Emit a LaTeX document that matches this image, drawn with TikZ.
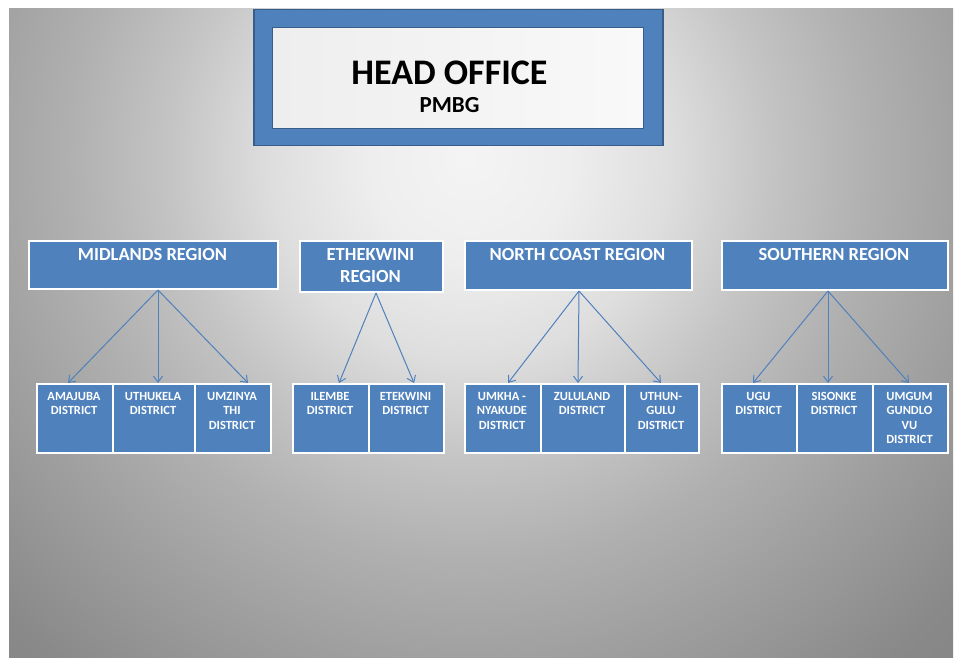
\documentclass[tikz,border=0pt]{standalone}
\usepackage{fontspec}
\setmainfont{Carlito}
\usetikzlibrary{arrows.meta}

\definecolor{boxblue}{HTML}{4F81BD}
\definecolor{edgeblue}{HTML}{385D8A}
\definecolor{bgA}{HTML}{F4F4F4}
\definecolor{bgB}{HTML}{EEEEEE}
\definecolor{bgC}{HTML}{DEDEDE}
\definecolor{bgD}{HTML}{C4C4C4}
\definecolor{bgE}{HTML}{B0B0B0}
\definecolor{bgF}{HTML}{A0A0A0}
\definecolor{bgG}{HTML}{898989}
\definecolor{bgH}{HTML}{808080}
\definecolor{panelL}{HTML}{EEEEEE}
\definecolor{panelR}{HTML}{F9F9F9}

% soft grey backdrop, brightest near the head office
\pgfdeclareradialshading{backdrop}{\pgfpoint{0bp}{0bp}}{%
  color(0bp)=(bgA); color(3.1bp)=(bgB); color(6.25bp)=(bgC);
  color(9.4bp)=(bgD); color(12.5bp)=(bgE); color(15.6bp)=(bgF);
  color(20.3bp)=(bgG); color(25bp)=(bgH); color(50bp)=(bgH)}

\begin{document}
\begin{tikzpicture}[x=1pt,y=-1pt,
  bluebox/.style={draw=white, line width=2pt, fill=boxblue, inner sep=0pt, anchor=north west},
  regiontext/.style={text=white, align=center, inner sep=0pt, anchor=north,
    font=\bfseries\fontsize{18.5}{22}\selectfont},
  disttext/.style={text=white, align=center, inner sep=0pt, anchor=north,
    font=\bfseries\fontsize{12.5}{14.5}\selectfont},
  link/.style={draw=boxblue, line width=1pt,
    -{Straight Barb[length=6pt,width=9pt,line width=1pt]}}]

\useasboundingbox (0,0) rectangle (954,658);
\fill[white] (0,0) rectangle (954,658);
\begin{scope}
  \clip (9,9) rectangle (953,657);
  \shade[shading=backdrop] (470,160) circle (800);
\end{scope}

% head office
\node[draw=edgeblue, line width=1.5pt, fill=boxblue, inner sep=0pt, anchor=north west,
  minimum width=409pt, minimum height=136pt] (hq) at (253,9) {};
\node[draw=edgeblue, line width=1.2pt, left color=panelL, right color=panelR, inner sep=0pt,
  anchor=north west, minimum width=371pt, minimum height=101pt] (hqpanel) at (272,27) {};
\node[anchor=base, inner sep=0pt, font=\bfseries\fontsize{36}{42}\selectfont] (hqtitle) at (449.5,85) {HEAD OFFICE};
\node[anchor=base, inner sep=0pt, font=\bfseries\fontsize{23}{27}\selectfont] (hqsub) at (449.5,113) {PMBG};

% regions
\node[bluebox, minimum width=249pt, minimum height=48pt] (midlands) at (28,240) {};
\node[bluebox, minimum width=143pt, minimum height=51pt] (ethekwini) at (299,240) {};
\node[bluebox, minimum width=227pt, minimum height=49pt] (northcoast) at (464,240) {};
\node[bluebox, minimum width=226pt, minimum height=49pt] (southern) at (721,240) {};

\node[regiontext] (midlands-t) at (152.5,248) {MIDLANDS REGION};
\node[regiontext] (ethekwini-t) at (370.5,248) {ETHEKWINI\\REGION};
\node[regiontext] (northcoast-t) at (577.5,248) {NORTH COAST REGION};
\node[regiontext] (southern-t) at (834,248) {SOUTHERN REGION};

% districts
\node[bluebox, minimum width=76pt, minimum height=69pt] (amajuba) at (36,383) {};
\node[bluebox, minimum width=82pt, minimum height=69pt] (uthukela) at (112,383) {};
\node[bluebox, minimum width=76pt, minimum height=69pt] (umzinyathi) at (194,383) {};
\node[bluebox, minimum width=76pt, minimum height=69pt] (ilembe) at (292,383) {};
\node[bluebox, minimum width=75pt, minimum height=69pt] (etekwini) at (368,383) {};
\node[bluebox, minimum width=76pt, minimum height=69pt] (umkhanyakude) at (464,383) {};
\node[bluebox, minimum width=84pt, minimum height=69pt] (zululand) at (540,383) {};
\node[bluebox, minimum width=74pt, minimum height=69pt] (uthungulu) at (624,383) {};
\node[bluebox, minimum width=75pt, minimum height=69pt] (ugu) at (721,383) {};
\node[bluebox, minimum width=76pt, minimum height=69pt] (sisonke) at (796,383) {};
\node[bluebox, minimum width=75pt, minimum height=69pt] (umgungundlovu) at (872,383) {};

\node[disttext] (amajuba-t) at (74,392) {AMAJUBA\\DISTRICT};
\node[disttext] (uthukela-t) at (153,392) {UTHUKELA\\DISTRICT};
\node[disttext] (umzinyathi-t) at (232,392) {UMZINYA\\THI\\DISTRICT};
\node[disttext] (ilembe-t) at (330,392) {ILEMBE\\DISTRICT};
\node[disttext] (etekwini-t) at (405.5,392) {ETEKWINI\\DISTRICT};
\node[disttext] (umkhanyakude-t) at (502,392) {UMKHA -\\NYAKUDE\\DISTRICT};
\node[disttext] (zululand-t) at (582,392) {ZULULAND\\DISTRICT};
\node[disttext] (uthungulu-t) at (661,392) {UTHUN-\\GULU\\DISTRICT};
\node[disttext] (ugu-t) at (758.5,392) {UGU\\DISTRICT};
\node[disttext] (sisonke-t) at (834,392) {SISONKE\\DISTRICT};
\node[disttext] (umgungundlovu-t) at (909.5,392) {UMGUM\\GUNDLO\\VU\\DISTRICT};

% connectors
\draw[link] ([xshift=4.5pt]midlands.south) -- ([xshift=-7pt]amajuba.north);
\draw[link] ([xshift=4.5pt]midlands.south) -- ([xshift=4pt]uthukela.north);
\draw[link] ([xshift=4.5pt]midlands.south) -- ([xshift=15pt]umzinyathi.north);
\draw[link] ([xshift=4.5pt]ethekwini.south) -- ([xshift=8pt]ilembe.north);
\draw[link] ([xshift=4.5pt]ethekwini.south) -- ([xshift=7.5pt]etekwini.north);
\draw[link] ([xshift=0.5pt]northcoast.south) -- ([xshift=5pt]umkhanyakude.north);
\draw[link] ([xshift=0.5pt]northcoast.south) -- ([xshift=-5pt]zululand.north);
\draw[link] ([xshift=0.5pt]northcoast.south) -- ([xshift=-1pt]uthungulu.north);
\draw[link] ([xshift=-7pt]southern.south) -- ([xshift=-6.5pt]ugu.north);
\draw[link] ([xshift=-7pt]southern.south) -- ([xshift=-7pt]sisonke.north);
\draw[link] ([xshift=-7pt]southern.south) -- ([xshift=-1.5pt]umgungundlovu.north);
\end{tikzpicture}
\end{document}
